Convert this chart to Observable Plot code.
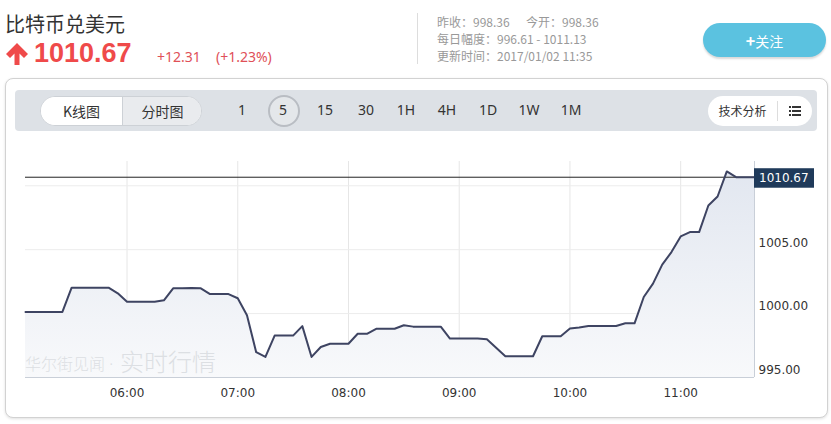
<!DOCTYPE html>
<html>
<head>
<meta charset="utf-8">
<script src="https://cdn.jsdelivr.net/npm/d3@7"></script>
<script src="https://cdn.jsdelivr.net/npm/@observablehq/plot@0.6"></script>
<style>
  html, body { margin: 0; padding: 0; background: #fff; }
  body { width: 831px; height: 424px; position: relative; overflow: hidden;
         font-family: "Noto Sans CJK SC", "Noto Sans", sans-serif; color: #333; }
  .abs { position: absolute; white-space: nowrap; }
  #title { left: 5px; top: 13px; font-size: 20px; line-height: 22px; color: #333; }
  #price { left: 34px; top: 38px; font-family: "Liberation Sans", Arial, sans-serif; font-weight: 700; font-size: 27px; line-height: 31px; color: #ef4a4a; }
  #arrow { left: 5px; top: 42px; }
  .chg { top: 47px; font-size: 14px; line-height: 20px; color: #e05058; font-family: "Noto Sans", sans-serif; }
  #sep { left: 417px; top: 13px; width: 1px; height: 51px; background: #ddd; }
  .info { font-size: 12px; color: #999; line-height: 16px; }
  #follow { left: 703px; top: 23px; width: 123px; height: 34px; border-radius: 17px; background: #5bc2e0;
            box-shadow: 0 2px 2px rgba(0,0,0,0.15); color: #fff; font-size: 14px; line-height: 34px; text-align: center; }
  #panel { left: 5px; top: 78px; width: 821px; height: 338px; border: 1px solid #d2d2d2; border-radius: 8px;
           box-shadow: 0 1px 3px rgba(0,0,0,0.12); background: #fff; }
  #toolbar { left: 15px; top: 90px; width: 802px; height: 41px; background: #dde1e6; border-radius: 4px; }
  #seg { left: 40px; top: 96px; width: 160px; height: 28px; border: 1px solid #cdd1d6; border-radius: 15px; background: #fff; overflow: hidden; font-size: 14px; }
  #seg div { position: absolute; top: 0; height: 28px; line-height: 28px; text-align: center; }
  .per { top: 100px; font-size: 14px; line-height: 20px; color: #333; font-family: "Noto Sans", sans-serif; transform: translateX(-50%); }
  #circ { left: 268px; top: 95px; width: 28px; height: 28px; border: 2px solid #b9bdc3; border-radius: 50%; background: #e4e7ea; }
  #tech { left: 708px; top: 96px; width: 104px; height: 30px; background: #fff; border-radius: 15px; overflow: hidden; font-size: 12px; }
  .wm { color: #dcdfe3; font-weight: 300; }
  #wm1 { left: 25px; top: 352px; font-size: 16px; line-height: 22px; }
  #wm2 { left: 120px; top: 346px; font-size: 24px; line-height: 30px; }
  #chart { left: 0; top: 150px; }
</style>
</head>
<body>
<div class="abs" id="title">比特币兑美元</div>
<svg class="abs" id="arrow" width="24" height="24" viewBox="0 0 24 24">
  <path d="M12 1 L23 12 L19 16 L14.5 11.5 L14.5 23 L9.5 23 L9.5 11.5 L5 16 L1 12 Z" fill="#ef4a4a"/>
</svg>
<div class="abs" id="price">1010.67</div>
<div class="abs chg" style="left:157px">+12.31</div>
<div class="abs chg" style="left:216px">(+1.23%)</div>
<div class="abs" id="sep"></div>
<div class="abs info" style="left:437px;top:14px">昨收：998.36</div>
<div class="abs info" style="left:526px;top:14px">今开：998.36</div>
<div class="abs info" style="left:437px;top:31px">每日幅度：996.61 - 1011.13</div>
<div class="abs info" style="left:437px;top:48px">更新时间：2017/01/02 11:35</div>
<div class="abs" id="follow"><b style="font-size:16px">+</b>关注</div>

<div class="abs" id="panel"></div>
<div class="abs" id="toolbar"></div>
<div class="abs" id="seg">
  <div style="left:0;width:81px;background:#fff;">K线图</div>
  <div style="left:81px;width:79px;background:#e9ebee;border-left:1px solid #cdd1d6;">分时图</div>
</div>
<div class="abs" id="circ"></div>
<div id="periods"></div>
<div class="abs" id="tech">
  <div class="abs" style="left:0;top:0;width:69px;height:30px;line-height:30px;text-align:center;">技术分析</div>
  <div class="abs" style="left:69px;top:5px;width:1px;height:20px;background:#ddd;"></div>
  <svg class="abs" style="left:81px;top:9px" width="12" height="12" viewBox="0 0 12 12">
    <rect x="0" y="1" width="2" height="2" fill="#333"/><rect x="3" y="1" width="9" height="2" fill="#333"/>
    <rect x="0" y="5" width="2" height="2" fill="#333"/><rect x="3" y="5" width="9" height="2" fill="#333"/>
    <rect x="0" y="9" width="2" height="2" fill="#333"/><rect x="3" y="9" width="9" height="2" fill="#333"/>
  </svg>
</div>

<div class="abs" id="chart"></div>
<div class="abs wm" id="wm1">华尔街见闻<span style="font-family:'Noto Sans',sans-serif;font-size:16px"> ·</span></div>
<div class="abs wm" id="wm2">实时行情</div>

<script>
// ---- data ----
const periodLabels = ["1", "5", "15", "30", "1H", "4H", "1D", "1W", "1M"];
const periodX = [242, 283, 325, 366, 406, 447, 488, 529, 571];

const startTime = "2017-01-02T05:05Z";
const endTime = "2017-01-02T11:40Z";
// 5-minute closes, 05:05 .. 11:40
const prices = [
  1000.13, 1000.13, 1000.13, 1000.13, 1000.13, // 05:05-05:25
  1002.03, 1002.03, 1002.03, 1002.03, 1002.03, // 05:30-05:50
  1001.59, 1000.92, 1000.92, 1000.92, 1000.92, // 05:55-06:15
  1001.04, 1001.98, 1001.98, 1002.00, 1001.98, // 06:20-06:40
  1001.53, 1001.53, 1001.53, 1001.20, 999.87,  // 06:45-07:05
  996.98, 996.61, 998.28, 998.28, 998.28,      // 07:10-07:30
  999.02, 996.61, 997.39, 997.64, 997.64,      // 07:35-07:55
  997.64, 998.42, 998.42, 998.81, 998.81,      // 08:00-08:20
  998.81, 999.09, 998.98, 998.98, 998.98,      // 08:25-08:45
  998.98, 998.05, 998.05, 998.05, 998.05,      // 08:50-09:10
  997.99, 997.33, 996.66, 996.66, 996.66,      // 09:15-09:35
  996.66, 998.23, 998.23, 998.23, 998.83,      // 09:40-10:00
  998.91, 999.03, 999.03, 999.03, 999.03,      // 10:05-10:25
  999.24, 999.24, 1001.30, 1002.34, 1003.83,   // 10:30-10:50
  1004.81, 1006.04, 1006.38, 1006.38, 1008.46, // 10:55-11:15
  1009.16, 1011.12, 1010.67, 1010.67, 1010.67  // 11:20-11:40
];
const lastPrice = 1010.67;
const yDomain = [995, 1011.9];
const yTicks = [995, 1000, 1005];
const yGrid = [995, 1000, 1005, 1010];

// ---- toolbar period labels ----
const pdiv = document.getElementById("periods");
periodLabels.forEach((p, i) => {
  const d = document.createElement("div");
  d.className = "abs per";
  d.style.left = periodX[i] + "px";
  d.textContent = p;
  pdiv.appendChild(d);
});

// ---- chart ----
const t0 = new Date(startTime), t1 = new Date(endTime);
const times = d3.utcMinute.every(5).range(t0, new Date(+t1 + 1));
const data = times.map((t, i) => ({time: t, price: prices[i]}));

const defs = () => {
  const s = d3.create("svg:defs");
  const g = s.append("linearGradient").attr("id", "areaGrad")
    .attr("x1", 0).attr("y1", 0).attr("x2", 0).attr("y2", 1);
  g.append("stop").attr("offset", "0%").attr("stop-color", "#e2e7f0");
  g.append("stop").attr("offset", "100%").attr("stop-color", "#f8f9fb");
  return s.node();
};

const plot = Plot.plot({
  width: 831,
  height: 260,
  marginLeft: 25,
  marginRight: 77,
  marginTop: 11,
  marginBottom: 33,
  style: {fontFamily: "DejaVu Sans, sans-serif", fontSize: "12px", color: "#333", background: "transparent", overflow: "visible"},
  x: {type: "utc", domain: [t0, t1], label: null},
  y: {domain: yDomain, label: null},
  marks: [
    defs,
    Plot.gridX({ticks: d3.utcHour.every(1), stroke: "#e6e6e6", strokeOpacity: 1}),
    Plot.gridY(yGrid, {stroke: "#ececec", strokeOpacity: 1}),
    Plot.areaY(data, {x: "time", y1: yDomain[0], y2: "price", fill: "url(#areaGrad)"}),
    Plot.ruleY([yDomain[0]], {stroke: "#c9cfd8"}),
    Plot.ruleX([t1], {stroke: "#c9cfd8"}),
    Plot.ruleY([lastPrice], {stroke: "#222", strokeWidth: 1}),
    Plot.lineY(data, {x: "time", y: "price", stroke: "#3e4462", strokeWidth: 2, strokeLinejoin: "round"}),
    Plot.axisX({ticks: d3.utcHour.every(1), tickFormat: d3.utcFormat("%H:%M"), tickSize: 0, tickPadding: 11, fill: "#333", label: null}),
    Plot.axisY(yTicks, {anchor: "right", tickSize: 0, tickPadding: 4, tickFormat: d => d.toFixed(2), dy: -7, fill: "#333", label: null})
  ]
});
document.getElementById("chart").appendChild(plot);

// last-price tag placed through the plot's scales
const xs = plot.scale("x"), ys = plot.scale("y");
const px = xs.apply(t1), py = ys.apply(lastPrice);
const tag = d3.select(plot).append("g").attr("text-anchor", "start");
tag.append("rect").attr("x", px).attr("y", py - 8.5).attr("width", 60).attr("height", 19.5).attr("fill", "#1f3a5a");
tag.append("text").attr("x", px + 5).attr("y", py + 1.5).attr("dy", "0.32em").attr("text-anchor", "start")
  .attr("fill", "#fff").attr("font-size", 12).attr("font-family", "DejaVu Sans, sans-serif").text(lastPrice.toFixed(2));
</script>
</body>
</html>
